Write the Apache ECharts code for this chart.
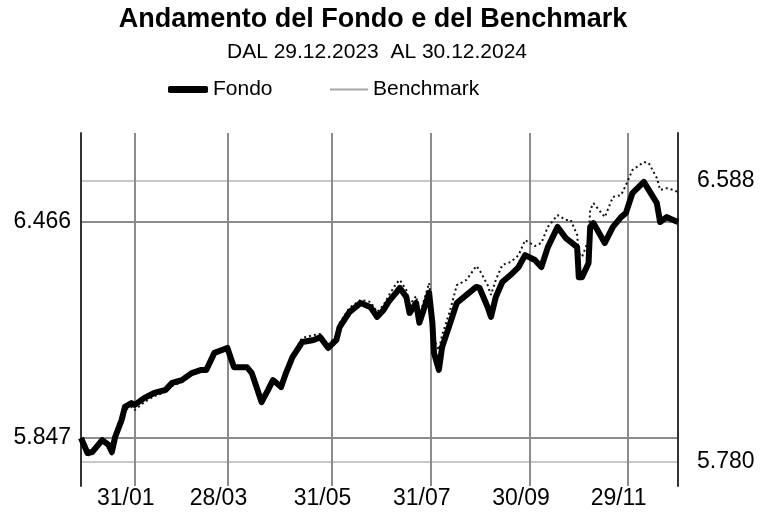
<!DOCTYPE html>
<html>
<head>
<meta charset="utf-8">
<script src="https://cdn.jsdelivr.net/npm/echarts@6/dist/echarts.min.js"></script>
<style>
  html, body { margin: 0; padding: 0; background: #fff; }
  #chart { width: 763px; height: 522px; }
</style>
</head>
<body>
<div id="chart"></div>
<script>
// date dei punti
var dates = [
    '2023-12-29','2024-01-02','2024-01-05','2024-01-11','2024-01-15','2024-01-17','2024-01-19','2024-01-23','2024-01-25','2024-01-29',
    '2024-01-31','2024-02-06','2024-02-12','2024-02-19','2024-02-23','2024-02-29','2024-03-06','2024-03-12','2024-03-15','2024-03-20',
    '2024-03-28','2024-04-01','2024-04-03','2024-04-09','2024-04-12','2024-04-18','2024-04-22','2024-04-25','2024-04-30','2024-05-03',
    '2024-05-07','2024-05-13','2024-05-20','2024-05-24','2024-05-29','2024-06-03','2024-06-05','2024-06-11','2024-06-18','2024-06-24',
    '2024-06-28','2024-07-02','2024-07-05','2024-07-10','2024-07-12','2024-07-16','2024-07-18','2024-07-22','2024-07-24','2024-07-26',
    '2024-07-30','2024-08-01','2024-08-02','2024-08-05','2024-08-07','2024-08-12','2024-08-16','2024-08-22','2024-08-28','2024-08-30',
    '2024-09-04','2024-09-06','2024-09-09','2024-09-13','2024-09-18','2024-09-23','2024-09-27','2024-10-03','2024-10-07','2024-10-11',
    '2024-10-17','2024-10-22','2024-10-25','2024-10-29','2024-10-30','2024-11-01','2024-11-05','2024-11-06','2024-11-08','2024-11-15',
    '2024-11-20','2024-11-25','2024-11-28','2024-12-02','2024-12-09','2024-12-12','2024-12-17','2024-12-19','2024-12-23','2024-12-27',
    '2024-12-30'
];

// valori del Fondo
var fondo = [
    5.847, 5.804, 5.807, 5.841, 5.827, 5.807, 5.850, 5.899, 5.936, 5.947,
    5.942, 5.962, 5.976, 5.985, 6.005, 6.013, 6.033, 6.042, 6.042, 6.091,
    6.105, 6.050, 6.050, 6.050, 6.033, 5.950, 5.985, 6.013, 5.993, 6.033,
    6.079, 6.122, 6.128, 6.136, 6.105, 6.128, 6.165, 6.208, 6.234, 6.222,
    6.194, 6.214, 6.237, 6.265, 6.277, 6.251, 6.205, 6.234, 6.177, 6.205,
    6.263, 6.177, 6.091, 6.042, 6.108, 6.177, 6.234, 6.257, 6.280, 6.277,
    6.222, 6.194, 6.251, 6.294, 6.314, 6.337, 6.371, 6.357, 6.337, 6.394,
    6.452, 6.420, 6.409, 6.394, 6.308, 6.308, 6.348, 6.452, 6.463, 6.406,
    6.452, 6.480, 6.492, 6.549, 6.581, 6.558, 6.520, 6.466, 6.480, 6.472,
    6.466
];

// valori del Benchmark
var benchmark = [
    5.847, 5.795, 5.807, 5.836, 5.821, 5.798, 5.841, 5.890, 5.927, 5.936,
    5.927, 5.950, 5.967, 5.979, 5.996, 6.007, 6.028, 6.039, 6.048, 6.093,
    6.111, 6.056, 6.053, 6.053, 6.036, 5.956, 5.987, 6.013, 5.996, 6.036,
    6.085, 6.134, 6.142, 6.145, 6.114, 6.139, 6.177, 6.220, 6.243, 6.237,
    6.208, 6.228, 6.254, 6.291, 6.300, 6.271, 6.228, 6.254, 6.200, 6.228,
    6.291, 6.214, 6.128, 6.099, 6.142, 6.214, 6.285, 6.300, 6.340, 6.328,
    6.285, 6.257, 6.300, 6.343, 6.351, 6.371, 6.414, 6.397, 6.406, 6.452,
    6.486, 6.472, 6.472, 6.429, 6.377, 6.366, 6.414, 6.500, 6.520, 6.480,
    6.538, 6.543, 6.572, 6.615, 6.638, 6.635, 6.592, 6.558, 6.563, 6.558,
    6.552
];

// etichette degli assi
var xTickDates = ['2024-01-31', '2024-03-28', '2024-05-31', '2024-07-31', '2024-09-30', '2024-11-29'];
var leftTicks = [5.847, 6.466];
var rightTicks = [5.780, 6.588];

function toTime(s) {
    var p = s.split('-');
    return new Date(+p[0], +p[1] - 1, +p[2]).getTime();
}
function pad(n) { return (n < 10 ? '0' : '') + n; }

var font = '"Liberation Sans", Arial, sans-serif';
var xTicks = xTickDates.map(toTime);
var legendText = { fontFamily: font, fontSize: 21, color: '#000' };

var chart = echarts.init(document.getElementById('chart'), null, { renderer: 'canvas' });
var option = {
    animation: false,
    backgroundColor: '#fff',
    title: [{
        text: 'Andamento del Fondo e del Benchmark',
        left: 373, top: 6, padding: 0, textAlign: 'center',
        textStyle: { fontFamily: font, fontSize: 27, fontWeight: 'bold', color: '#000' }
    }, {
        text: 'DAL 29.12.2023  AL 30.12.2024',
        left: 377, top: 42, padding: 0, textAlign: 'center',
        textStyle: { fontFamily: font, fontSize: 21, fontWeight: 'normal', color: '#000' }
    }],
    // due legende separate: spessore diverso dei simboli
    legend: [{
        left: 168, top: 79, padding: 0,
        itemWidth: 40, itemHeight: 7,
        textStyle: legendText,
        data: [{ name: 'Fondo', icon: 'roundRect', itemStyle: { color: '#000' } }]
    }, {
        left: 330, top: 79, padding: 0,
        itemWidth: 38, itemHeight: 2,
        textStyle: legendText,
        data: [{ name: 'Benchmark', icon: 'rect', itemStyle: { color: '#a8a8a8' } }]
    }],
    grid: { left: 81, right: 85, top: 133, bottom: 36, outerBoundsMode: 'none' },
    xAxis: {
        type: 'value',
        min: toTime('2023-12-29'),
        max: toTime('2024-12-30'),
        axisLine: { show: false },
        axisTick: { show: false, customValues: xTicks },
        axisLabel: {
            customValues: xTicks,
            margin: 1,
            padding: [0, 18, 0, 0],
            fontFamily: font, fontSize: 23, color: '#000',
            formatter: function (v) {
                var d = new Date(v);
                return pad(d.getDate()) + '/' + pad(d.getMonth() + 1);
            }
        },
        splitLine: { show: true, lineStyle: { color: '#8c8c8c', width: 2 } }
    },
    yAxis: [{
        type: 'value',
        position: 'left',
        min: 5.7094, max: 6.7211,
        axisLine: { show: true, lineStyle: { color: '#333', width: 2 } },
        axisTick: { show: false, customValues: leftTicks },
        axisLabel: {
            customValues: leftTicks, margin: 10,
            fontFamily: font, fontSize: 23, color: '#000',
            formatter: function (v) { return v.toFixed(3); }
        },
        splitLine: { show: true, lineStyle: { color: '#8c8c8c', width: 2 } }
    }, {
        type: 'value',
        position: 'right',
        min: 5.711, max: 6.726,
        axisLine: { show: true, lineStyle: { color: '#333', width: 2 } },
        axisTick: { show: false, customValues: rightTicks },
        axisLabel: {
            customValues: rightTicks, margin: 19,
            fontFamily: font, fontSize: 23, color: '#000',
            formatter: function (v) { return v.toFixed(3); }
        },
        splitLine: { show: true, lineStyle: { color: '#c8c8c8', width: 2 } }
    }],
    series: [{
        name: 'Benchmark',
        type: 'line',
        symbol: 'none',
        z: 2,
        lineStyle: { color: '#111', width: 2, type: [2, 3] },
        itemStyle: { color: '#111' },
        data: dates.map(function (d, i) { return [toTime(d), benchmark[i]]; })
    }, {
        name: 'Fondo',
        type: 'line',
        symbol: 'none',
        z: 3,
        lineStyle: { color: '#000', width: 6, join: 'round' },
        itemStyle: { color: '#000' },
        data: dates.map(function (d, i) { return [toTime(d), fondo[i]]; })
    }]
};
chart.setOption(option);
</script>
</body>
</html>
